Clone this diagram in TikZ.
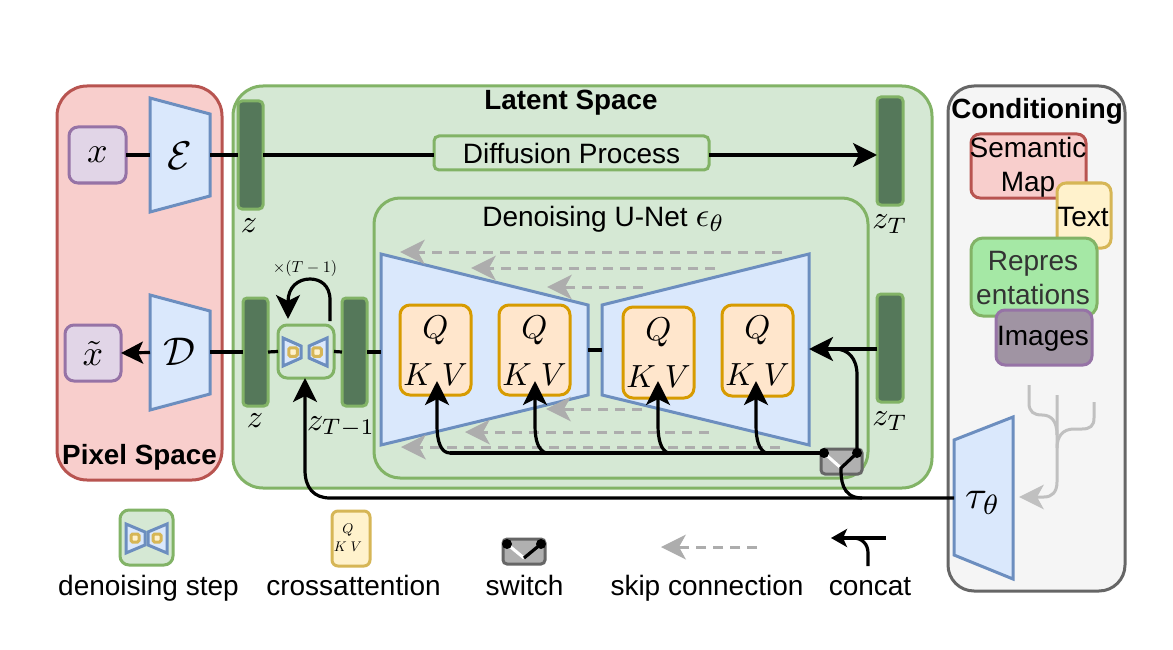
\documentclass[tikz,border=0pt]{standalone}
\usepackage{graphicx}
\usepackage{fontspec}
\setmainfont{Liberation Sans}
\usetikzlibrary{arrows.meta}
\definecolor{redS}{HTML}{B85450}\definecolor{redF}{HTML}{F8CECC}
\definecolor{grnS}{HTML}{82B366}\definecolor{grnF}{HTML}{D5E8D4}
\definecolor{bluS}{HTML}{6C8EBF}\definecolor{bluF}{HTML}{DAE8FC}
\definecolor{purS}{HTML}{9673A6}\definecolor{purF}{HTML}{E1D5E7}
\definecolor{ylwS}{HTML}{D6B656}\definecolor{ylwF}{HTML}{FFF2CC}
\definecolor{orgS}{HTML}{D79B00}\definecolor{orgF}{HTML}{FFE6CC}
\definecolor{gryS}{HTML}{666666}\definecolor{gryF}{HTML}{F5F5F5}
\definecolor{barF}{HTML}{55785A}\definecolor{swF}{HTML}{B0B0B0}
\definecolor{skipC}{HTML}{ADADAD}\definecolor{treeC}{HTML}{C0C0C0}
\definecolor{repF}{HTML}{A5E8A5}\definecolor{imgF}{HTML}{A094A3}
\newcommand{\fs}[1]{\fontsize{#1}{34}\selectfont}
\newcommand{\mth}[2]{{\fontsize{10}{12}\selectfont\scalebox{#1}{$#2$}}}
% name, style, x1, y1, x2, y2, text
\newcommand{\boxn}[7]{\node[#2,minimum width={(#5-#3)*1pt},minimum height={(#6-#4)*1pt}] (#1) at ({(#3+#5)/2},{(#4+#6)/2}) {#7};}
% name, xl, ylt, ylb, xr, yrt, yrb
\newcommand{\trap}[7]{\draw[trapstyle] (#2,#3) -- (#5,#6) -- (#5,#7) -- (#2,#4) -- cycle;
 \coordinate (#1-w) at (#2,{(#3+#4)/2}); \coordinate (#1-e) at (#5,{(#6+#7)/2});}
\newcommand{\qkv}[5]{\boxn{#1}{qstyle}{#2}{#3}{#4}{#5}{}
 \node[anchor=base] (#1-q) at ({(#2+#4)/2},#3+33.5) {\mth{3.3}{Q}};
 \node[anchor=base] (#1-kv) at ({(#2+#4)/2},#3+80.5) {\mth{3.2}{K\;V}};}
\newcommand{\skiparrow}[4]{\coordinate (#1-a) at (#3,#2); \coordinate (#1-b) at (#4,#2);
 \draw[skipline] (#1-b) -- (#1-a);}
\tikzset{
 x=1pt,y=-1pt,
 every node/.style={outer sep=0pt,inner sep=0pt},
 rbox/.style={draw,line width=3pt,rounded corners=#1},
 rbox/.default=9pt,
 trapstyle/.style={draw=bluS,fill=bluF,line width=3pt,line join=miter},
 minitrap/.style={draw=bluS,fill=bluF,line width=3pt},
 ministep/.style={draw=ylwS,fill=ylwF,line width=3pt,rounded corners=1.5pt},
 zbar/.style={rbox=4pt,draw=grnS,fill=barF},
 qstyle/.style={rbox=10pt,draw=orgS,fill=orgF},
 lbl/.style={font=\fs{28},text=black,anchor=base},
 blbl/.style={font=\bfseries\fs{27.8},text=black,anchor=base},
 mlbl/.style={font=\fs{28},text=black,align=center},
 conn/.style={line width=3.2pt,draw=black},
 head/.style={-{Stealth[length=24pt,width=24pt,inset=6pt]}},
 skipline/.style={draw=skipC,line width=3pt,dash pattern=on 10pt off 7pt,-{Stealth[length=25pt,width=25pt,inset=7pt,color=skipC,line width=0pt]}},
 treel/.style={draw=treeC,line width=3pt},
}
\begin{document}
\begin{tikzpicture}
\useasboundingbox[fill=white] (0,0) rectangle (1173,650);
% Containers
\boxn{pixel}{rbox=30pt,draw=redS,fill=redF}{57}{86}{222}{480}{}
\boxn{latent}{rbox=30pt,draw=grnS,fill=grnF}{233}{86}{932}{488}{}
\boxn{cond}{rbox=26pt,draw=gryS,fill=gryF}{948}{86}{1125}{591}{}
\boxn{unet}{rbox=26pt,draw=grnS,fill=grnF}{374}{198}{868}{478}{}
\node[blbl] (lpixel) at (139.5,464) {Pixel Space};
\node[blbl] (llatent) at (571,110) {Latent Space};
\node[blbl] (lcond) at (1037,118.5) {Conditioning};
\node[lbl] (lunet) at (603.5,226) {Denoising U-Net \mth{3.4}{\epsilon_\theta}};
% Top row
\boxn{x}{rbox,draw=purS,fill=purF}{69}{127}{126}{183}{\mth{3.6}{x}}
\trap{E}{150}{98}{212}{210}{114}{196}
\node (El) at (180,156) {\mth{4}{\mathcal{E}}};
\boxn{ztop}{zbar}{238}{101}{263}{209}{}
\node (zl1) at (249,226) {\mth{3.2}{z}};
\boxn{diff}{rbox=5pt,draw=grnS,fill=grnF,font=\fs{28}}{434}{136}{709}{170}{Diffusion Process}
\boxn{ztT}{zbar}{877}{97}{903}{205}{}
\node (ztl1) at (890,224) {\mth{3.2}{z_T}};
\draw[conn] (x.east) -- (E-w);
\draw[conn] (E-e) -- (ztop.west);
\draw[conn] (ztop.east) -- (ztop.east -| diff.west);
\draw[conn,head] (ztop.east -| diff.east) -- (ztop.east -| ztT.west);
% Bottom row
\boxn{xt}{rbox,draw=purS,fill=purF}{65}{325}{121}{381}{\mth{3.6}{\tilde{x}}}
\trap{D}{150}{295}{410}{210}{311}{394}
\node (Dl) at (179,352) {\mth{4}{\mathcal{D}}};
\boxn{zb}{zbar}{243}{298}{268}{406}{}
\node (zl2) at (255,421) {\mth{3.2}{z}};
\boxn{step}{rbox=9pt,draw=grnS,fill=grnF}{278}{325}{334}{378}{}
\draw[minitrap] (283,338) -- (301,346) -- (301,358) -- (283,366) -- cycle;
\draw[minitrap] (327,338) -- (309,346) -- (309,358) -- (327,366) -- cycle;
\node[ministep,minimum size=8.5pt] (s1) at (293,352) {};
\node[ministep,minimum size=8.5pt] (s2) at (317,352) {};
\boxn{ztm}{zbar}{342}{298}{367}{406}{}
\node (zl3) at (341,427) {\mth{3.2}{z_{T-1}}};
\node (times) at (305,268) {\mth{1.6}{\times(T-1)}};
\draw[conn] (zb.east) -- (step.west);
\draw[conn] (step.east) -- (ztm.west);
\draw[conn,-{Stealth[length=24pt,width=24pt,inset=6pt]}] (330,321) -- (330,300) .. controls (330,285) and (320,279) .. (310,279) .. controls (298,279) and (288,287) .. (288,319);
\draw[conn] (zb.west) -- (zb.west -| D-e);
\draw[conn,-{Stealth[length=22pt,width=22pt,inset=5pt]}] (D-w) -- (xt.east);
% U-Net trapezoids
\trap{enc}{381}{254}{445}{588}{305}{395}
\trap{dec}{602}{305}{395}{809}{254}{445}
\draw[conn] (ztm.east) -- (ztm.east -| enc-w);
\draw[conn] (enc-e) -- (dec-w);
\qkv{q1}{400}{305}{471}{395}
\qkv{q2}{499}{305}{570}{395}
\qkv{q3}{623}{307}{694}{398}
\qkv{q4}{722}{305}{793}{396}
% Skip connections
\skiparrow{k1}{252}{400}{782}
\skiparrow{k2}{268}{471}{715}
\skiparrow{k3}{287}{547}{643}
\skiparrow{k4}{409}{546}{642}
\skiparrow{k5}{432}{465}{709}
\skiparrow{k6}{447}{401}{780}
% z_T bottom
\boxn{zbT}{zbar}{877}{294}{903}{402}{}
\node (ztl2) at (890,421) {\mth{3.2}{z_T}};
\draw[conn,head] (zbT.west |- 0,349) -- (dec-e |- 0,349);
% Switch
\boxn{sw}{rbox=4pt,draw=gryS,fill=swF}{821}{449}{862}{474}{}
\coordinate (swl) at (824,453);\coordinate (swr) at (857,453);\coordinate (swm) at (841,468);
% bus and branches
\draw[conn] (swl) -- (450,453);
\draw[conn,head] (450,453) .. controls (441,453) and (437,442) .. (437,425) -- (437,381);
\draw[conn,head] (546,453) .. controls (538,450) and (535,440) .. (535,425) -- (535,381);
\draw[conn,head] (668,453) .. controls (661,450) and (658,440) .. (658,425) -- (658,381);
\draw[conn,head] (766,453) .. controls (759,450) and (756,440) .. (756,425) -- (756,381);
\draw[line width=3pt,draw=white] (swl) -- (swm);
\draw[conn] (swr) -- (857,375) .. controls (857,358) and (848,349) .. (835,349);
\fill (swl) circle (5); \fill (swr) circle (5);
% tau
\trap{T}{954}{440}{555}{1013}{417}{579}
\node (Tl) at (983,503) {\mth{4}{\tau_\theta}};
\draw[conn,head] (T-w |- 0,498) -- (330,498) .. controls (314,498) and (305,488) .. (305,470) -- (step.south -| 305,378);
\draw[conn] (swr) -- (swm) .. controls (841,478) and (841,498) .. (862,498);
% Conditioning boxes
\boxn{sem}{rbox=9pt,draw=redS,fill=redF}{971}{134}{1086}{198}{}
\node[mlbl] (seml) at (1028,167) {Semantic\\Map};
\boxn{txt}{rbox=9pt,draw=ylwS,fill=ylwF}{1057}{183}{1111}{248}{}
\node[lbl] (txtl) at (1083,226) {Text};
\boxn{rep}{rbox=12pt,draw=grnS,fill=repF}{971}{238}{1097}{316}{}
\node[mlbl,text=black!80] (repl) at (1033,278.5) {Repres\\entations};
\boxn{img}{rbox=9pt,draw=purS,fill=imgF}{996}{310}{1092}{365}{}
\node[lbl] (imgl) at (1043,345.5) {Images};
% Tree
\draw[treel] (1029,385) -- (1029,403) .. controls (1029,412) and (1034,415) .. (1042,415) .. controls (1052,415) and (1057,422) .. (1057,435);
\draw[treel] (1094,402) -- (1094,418) .. controls (1094,426) and (1090,429) .. (1082,429) -- (1074,429) .. controls (1063,429) and (1057,436) .. (1057,448);
\draw[treel,-{Stealth[length=25pt,width=25pt,inset=7pt,color=treeC,line width=0pt]}] (1057,395) -- (1057,482) .. controls (1057,492) and (1052,497) .. (1044,497) -- (1019,497);
% Legend
\boxn{lstep}{rbox=9pt,draw=grnS,fill=grnF}{120}{510}{173}{565}{}
\draw[minitrap] (126,524) -- (145,532) -- (145,545) -- (126,553) -- cycle;
\draw[minitrap] (167,524) -- (148,532) -- (148,545) -- (167,553) -- cycle;
\node[ministep,minimum size=8pt] (ls1) at (135,538) {};
\node[ministep,minimum size=8pt] (ls2) at (157,538) {};
\node[lbl] (t1) at (148.5,595.5) {denoising step};
\boxn{lqkv}{rbox=6pt,draw=ylwS,fill=ylwF}{332}{511}{370}{566}{}
\node (lq) at (348,530) {\mth{1.4}{Q}};
\node (lkv) at (348,547) {\mth{1.4}{K\;V}};
\node[lbl] (t2) at (353.5,595.5) {crossattention};
\boxn{lsw}{rbox=4pt,draw=gryS,fill=swF}{503}{539}{545}{564}{}
\coordinate (lswl) at (507,544);\coordinate (lswr) at (541,544);\coordinate (lswm) at (524,558);
\draw[line width=3pt,draw=white] (lswl) -- (lswm);
\draw[conn] (lswr) -- (lswm);
\fill (lswl) circle (5); \fill (lswr) circle (5);
\node[lbl] (t3) at (524.5,595.5) {switch};
\skiparrow{ls}{547}{661}{757}
\node[lbl] (t4) at (707,595.5) {skip connection};
\coordinate (ca) at (886,538);\coordinate (cb) at (831,538);\coordinate (cc) at (868,566);
\draw[conn,-{Stealth[length=16pt,width=18pt,inset=4pt]}] (ca) -- (cb);
\draw[conn] (cc) -- (868,553) .. controls (868,544) and (862,538) .. (853,538);
\node[lbl] (t5) at (870,595.5) {concat};
\end{tikzpicture}
\end{document}
